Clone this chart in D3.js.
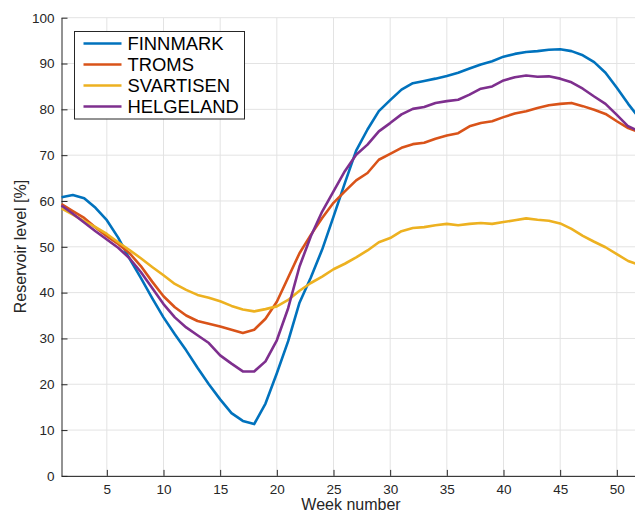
<!DOCTYPE html>
<html>
<head>
<meta charset="UTF-8">
<script src="https://d3js.org/d3.v7.min.js"></script>
<style>
  body { margin: 0; background: #fff; }
  svg text { font-family: "Liberation Sans", Arial, Helvetica, sans-serif; }
</style>
</head>
<body>
<svg id="canvas"></svg>
<script>

width = 635;
height = 513;

weeks = d3.range(1, 53);

seriesNames = ["FINNMARK", "TROMS", "SVARTISEN", "HELGELAND"];
seriesColors = ["#0072bd", "#d95319", "#edb120", "#7e2f8e"];

finnmark = [60.8, 61.3, 60.6, 58.5, 55.8, 52.0, 47.4, 43.2, 38.8, 34.6,
            30.9, 27.4, 23.6, 20.0, 16.7, 13.7, 12.0, 11.3, 15.8, 22.4,
            29.4, 37.8, 43.3, 49.4, 56.6, 63.9, 71.0, 75.6, 79.6, 82.0,
            84.3, 85.7, 86.2, 86.7, 87.3, 88.0, 88.9, 89.8, 90.5, 91.5,
            92.1, 92.5, 92.7, 93.0, 93.1, 92.7, 91.8, 90.3, 88.0, 84.7,
            81.2, 78.0];
troms = [59.3, 57.8, 56.3, 54.2, 52.3, 50.6, 48.6, 45.8, 42.4, 39.2,
         36.8, 35.0, 33.8, 33.2, 32.6, 31.9, 31.2, 31.9, 34.3, 38.0,
         43.3, 48.6, 52.6, 56.3, 59.6, 62.1, 64.5, 66.1, 69.0, 70.3,
         71.6, 72.4, 72.7, 73.6, 74.3, 74.8, 76.3, 77.0, 77.4, 78.3,
         79.1, 79.6, 80.3, 80.9, 81.2, 81.4, 80.7, 79.9, 79.0, 77.4,
         75.9, 75.0];
svartisen = [58.4, 57.0, 55.6, 54.3, 52.8, 51.0, 49.3, 47.5, 45.6, 43.8,
             41.9, 40.6, 39.5, 38.9, 38.1, 37.1, 36.3, 35.9, 36.4, 37.0,
             38.4, 40.4, 42.1, 43.5, 45.1, 46.3, 47.7, 49.2, 51.0, 51.9,
             53.4, 54.1, 54.3, 54.7, 55.0, 54.7, 55.0, 55.2, 55.0, 55.4,
             55.8, 56.2, 55.9, 55.7, 55.1, 53.9, 52.4, 51.1, 49.9, 48.4,
             46.9, 46.0];
helgeland = [59.0, 57.2, 55.3, 53.4, 51.6, 49.8, 47.5, 44.5, 41.0, 37.5,
             34.6, 32.4, 30.7, 29.0, 26.3, 24.5, 22.8, 22.8, 25.0, 29.6,
             36.6, 45.7, 52.3, 57.7, 62.1, 66.5, 70.1, 72.3, 75.2, 77.0,
             78.9, 80.1, 80.5, 81.4, 81.8, 82.1, 83.2, 84.5, 85.0, 86.3,
             87.0, 87.4, 87.1, 87.2, 86.7, 85.9, 84.5, 82.8, 81.2, 78.8,
             76.3, 75.2];

xTicks = [5, 10, 15, 20, 25, 30, 35, 40, 45, 50];
yTicks = [0, 10, 20, 30, 40, 50, 60, 70, 80, 90, 100];

allSeries = [finnmark, troms, svartisen, helgeland];

// plot box (right edge falls just outside the picture)
plotLeft = 61.5;
plotRight = 639.5;
plotTop = 17.7;
plotBottom = 475.9;

x = d3.scaleLinear().domain([1, 52]).range([plotLeft, plotRight]);
y = d3.scaleLinear().domain([0, 100]).range([plotBottom, plotTop]);

canvas = d3.select("#canvas")
    .attr("width", width)
    .attr("height", height);

// grid
canvas.append("g")
    .selectAll("line")
    .data(xTicks)
    .enter()
        .append("line")
            .attr("x1", d => x(d)).attr("x2", d => x(d))
            .attr("y1", plotTop).attr("y2", plotBottom)
            .attr("stroke", "#e3e3e3").attr("stroke-width", 1);

canvas.append("g")
    .selectAll("line")
    .data(yTicks)
    .enter()
        .append("line")
            .attr("x1", plotLeft).attr("x2", plotRight)
            .attr("y1", d => y(d)).attr("y2", d => y(d))
            .attr("stroke", "#e3e3e3").attr("stroke-width", 1);

// axes
xAxis = canvas.append("g")
    .attr("transform", "translate(0," + plotBottom + ")")
    .call(d3.axisBottom(x).tickValues(xTicks).tickSizeInner(-6).tickSizeOuter(0).tickPadding(9));

yAxis = canvas.append("g")
    .attr("transform", "translate(" + plotLeft + ",0)")
    .call(d3.axisLeft(y).tickValues(yTicks).tickSizeInner(-6).tickSizeOuter(0).tickPadding(7));

[xAxis, yAxis].forEach(function(a) {
    a.select(".domain").attr("stroke", "#262626").attr("stroke-width", 1);
    a.selectAll(".tick line").attr("stroke", "#262626");
    a.selectAll(".tick text")
        .attr("fill", "#262626")
        .style("font-size", "13.5px")
        .style("font-family", "'Liberation Sans', Arial, sans-serif");
});

// lines
line = d3.line()
    .x((d, i) => x(weeks[i]))
    .y(d => y(d));

canvas.append("g")
    .selectAll("path")
    .data(allSeries)
    .enter()
        .append("path")
            .attr("d", line)
            .attr("fill", "none")
            .attr("stroke", (d, i) => seriesColors[i])
            .attr("stroke-width", 2.6)
            .attr("stroke-linejoin", "round");

// labels
canvas.append("text")
    .attr("x", 351)
    .attr("y", 510)
    .attr("text-anchor", "middle")
    .attr("fill", "#262626")
    .style("font-size", "16px")
    .text("Week number");

canvas.append("text")
    .attr("transform", "translate(25.5,246.5) rotate(-90)")
    .attr("text-anchor", "middle")
    .attr("fill", "#262626")
    .style("font-size", "16px")
    .text("Reservoir level [%]");

// legend
legend = canvas.append("g");

legend.append("rect")
    .attr("x", 74.5).attr("y", 31.5)
    .attr("width", 170).attr("height", 87.5)
    .attr("fill", "#fff")
    .attr("stroke", "#262626").attr("stroke-width", 1);

rows = legend.selectAll("g.row")
    .data(seriesNames)
    .enter()
        .append("g")
            .attr("class", "row")
            .attr("transform", (d, i) => "translate(0," + (43.5 + i * 21) + ")");

rows.append("line")
    .attr("x1", 83.5).attr("x2", 121.5)
    .attr("y1", 0).attr("y2", 0)
    .attr("stroke", (d, i) => seriesColors[i])
    .attr("stroke-width", 2.6);

rows.append("text")
    .attr("x", 127.5)
    .attr("y", 6.6)
    .attr("fill", "#000")
    .style("font-size", "18.4px")
    .text(d => d);

</script>
</body>
</html>
